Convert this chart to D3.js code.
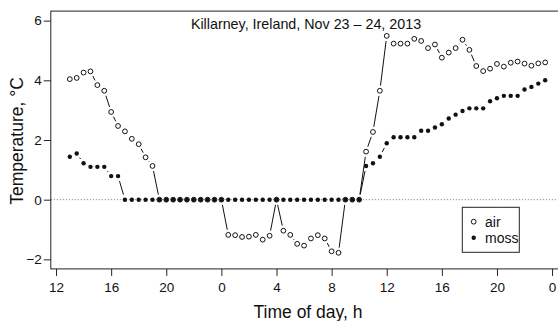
<!DOCTYPE html>
<html>
<head>
<meta charset="utf-8">
<script src="https://cdn.jsdelivr.net/npm/d3@7"></script>
<style>
  html, body { margin: 0; padding: 0; background: #fff; }
  svg { display: block; font-family: "Liberation Sans", Arial, Helvetica, sans-serif; }
</style>
</head>
<body>
<svg id="chart" width="558" height="321"></svg>
<script>
// ---- data ----
const hours = [13,13.5,14,14.5,15,15.5,16,16.5,17,17.5,18,18.5,19,19.5,20,20.5,21,21.5,22,22.5,23,23.5,
  24,24.5,25,25.5,26,26.5,27,27.5,28,28.5,29,29.5,30,30.5,31,31.5,32,32.5,33,33.5,34,34.5,35,35.5,
  36,36.5,37,37.5,38,38.5,39,39.5,40,40.5,41,41.5,42,42.5,43,43.5,44,44.5,45,45.5,46,46.5,47,47.5];
const air = [4.04,4.08,4.26,4.30,3.84,3.65,2.94,2.47,2.29,2.04,1.86,1.42,1.13,
  0,0,0,0,0,0,0,0,0,0,
  -1.18,-1.19,-1.25,-1.24,-1.18,-1.34,-1.21,
  0,
  -1.04,-1.18,-1.48,-1.54,-1.30,-1.19,-1.30,-1.73,-1.78,
  0,0,0,
  1.61,2.27,3.65,5.49,
  5.23,5.23,5.23,5.39,5.32,5.08,5.20,4.76,4.93,5.08,5.36,5.02,4.48,4.31,4.39,4.55,4.46,4.59,4.63,4.56,4.49,4.57,4.60];
const moss = [1.44,1.55,1.22,1.10,1.10,1.10,0.79,0.79,
  0,0,0,0,0,0,0,0,0,0,0,0,0,0,0,0,0,0,0,0,0,0,0,0,0,0,0,0,0,0,0,0,0,0,0,
  1.13,1.22,1.44,1.89,
  2.09,2.09,2.09,2.09,2.31,2.31,2.42,2.53,2.72,2.85,2.97,3.06,3.06,3.06,3.30,3.40,3.48,3.48,3.48,3.69,3.78,3.89,4.00];
const xTicks = [12,16,20,24,28,32,36,40,44,48];
const xTickLabels = ["12","16","20","0","4","8","12","16","20","0"];
const yTicks = [-2,0,2,4,6];
const title = "Killarney, Ireland, Nov 23 \u2013 24, 2013";
const seriesNames = ["air","moss"];

// ---- layout ----
const svg = d3.select("#chart");
const L = 50.8, R = 564.2, T = 11.1, B = 268.9;
const x = d3.scaleLinear().domain([11.62, 48.88]).range([L, R]);
const y = d3.scaleLinear().domain([-2.32, 6.32]).range([B, T]);

// zero reference line
svg.append("line")
  .attr("x1", L).attr("x2", 558).attr("y1", y(0)).attr("y2", y(0))
  .attr("stroke", "#777").attr("stroke-width", 1).attr("stroke-dasharray", "1,2");

// box
svg.append("rect").attr("x", L).attr("y", T).attr("width", R - L).attr("height", B - T)
  .attr("fill", "none").attr("stroke", "#222").attr("stroke-width", 1);

// axes
const fs = 13.5;
const xAxis = d3.axisBottom(x).tickValues(xTicks)
  .tickFormat((d, i) => xTickLabels[i]).tickSize(7).tickPadding(7);
const gx = svg.append("g").attr("transform", `translate(0,${B})`).call(xAxis);
gx.select(".domain").remove();
gx.selectAll("text").attr("font-size", fs).attr("font-family", null).attr("fill", "#111");
gx.selectAll("line").attr("stroke", "#222");

const yAxis = d3.axisLeft(y).tickValues(yTicks)
  .tickFormat(d => d < 0 ? "\u2212" + Math.abs(d) : String(d)).tickSize(7).tickPadding(2);
const gy = svg.append("g").attr("transform", `translate(${L},0)`).call(yAxis);
gy.select(".domain").remove();
gy.selectAll("text").attr("font-size", fs).attr("font-family", null).attr("fill", "#111");
gy.selectAll("line").attr("stroke", "#222");

// axis titles
svg.append("text").attr("x", 308).attr("y", 318).attr("text-anchor", "middle")
  .attr("font-size", 17.5).attr("fill", "#111").text("Time of day, h");
svg.append("text").attr("transform", `translate(23,141) rotate(-90)`).attr("text-anchor", "middle")
  .attr("font-size", 17.5).attr("fill", "#111").text("Temperature, \u00B0C");

// title
svg.append("text").attr("x", 306).attr("y", 29).attr("text-anchor", "middle")
  .attr("font-size", 14.3).attr("fill", "#111").text(title);

// type = "b" series drawing
const GAP = 5.2;
function drawSeries(vals, filled) {
  const pts = hours.map((h, i) => [x(h), y(vals[i])]);
  const g = svg.append("g");
  for (let i = 0; i < pts.length - 1; i++) {
    const [x0, y0] = pts[i], [x1, y1] = pts[i + 1];
    const dx = x1 - x0, dy = y1 - y0, d = Math.hypot(dx, dy);
    if (d > 2 * GAP) {
      const ux = dx / d, uy = dy / d;
      g.append("line")
        .attr("x1", x0 + ux * GAP).attr("y1", y0 + uy * GAP)
        .attr("x2", x1 - ux * GAP).attr("y2", y1 - uy * GAP)
        .attr("stroke", "#111").attr("stroke-width", 1);
    }
  }
  g.selectAll("circle").data(pts).join("circle")
    .attr("cx", d => d[0]).attr("cy", d => d[1])
    .attr("r", filled ? 2.2 : 2.4)
    .attr("fill", filled ? "#111" : "#fff")
    .attr("stroke", "#111").attr("stroke-width", filled ? 0 : 1);
}
drawSeries(air, false);
drawSeries(moss, true);

// legend
const lg = svg.append("g");
lg.append("rect").attr("x", 462.3).attr("y", 207.3).attr("width", 57).attr("height", 45)
  .attr("fill", "#fff").attr("stroke", "#222").attr("stroke-width", 1);
seriesNames.forEach((name, i) => {
  const cy = 221.7 + i * 16;
  lg.append("circle").attr("cx", 473.7).attr("cy", cy).attr("r", i === 0 ? 2.4 : 2.2)
    .attr("fill", i === 0 ? "#fff" : "#111").attr("stroke", "#111").attr("stroke-width", i === 0 ? 1 : 0);
  lg.append("text").attr("x", 485).attr("y", cy + 5).attr("font-size", 14).attr("fill", "#111").text(name);
});
</script>
</body>
</html>
